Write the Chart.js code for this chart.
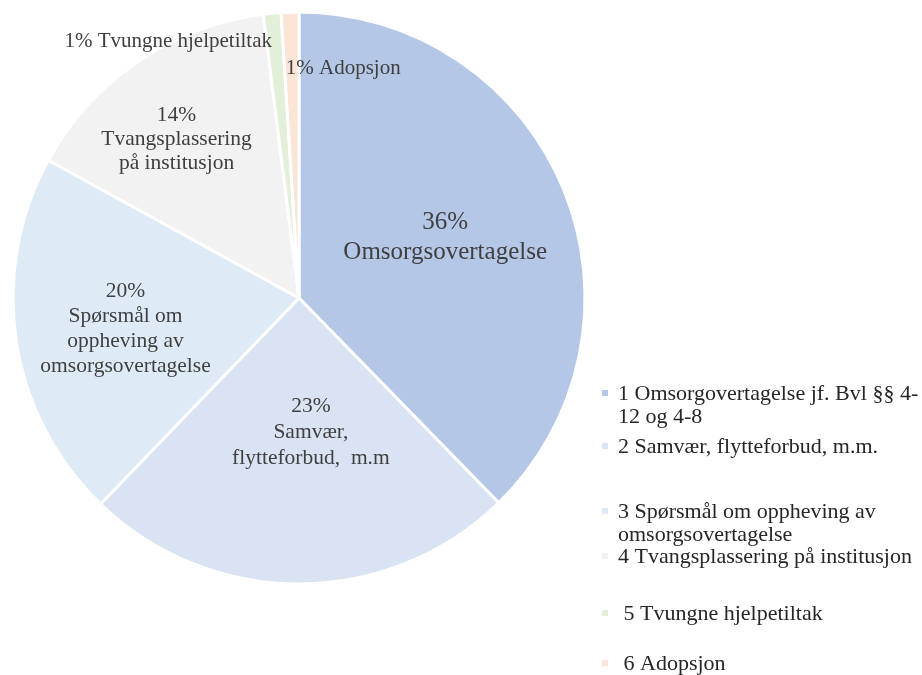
<!DOCTYPE html>
<html>
<head>
<meta charset="utf-8">
<script src="https://cdn.jsdelivr.net/npm/chart.js@4/dist/chart.umd.min.js"></script>
<style>
  html, body { margin: 0; padding: 0; background: #ffffff; }
  #wrap { position: relative; width: 922px; height: 675px; }
</style>
</head>
<body>
<div id="wrap"><canvas id="c" width="922" height="675"></canvas></div>
<script>
// ---- data ----
const categories = [
  '1 Omsorgovertagelse jf. Bvl §§ 4-\n12 og 4-8',
  '2 Samvær, flytteforbud, m.m.',
  '3 Spørsmål om oppheving av\nomsorgsovertagelse',
  '4 Tvangsplassering på institusjon',
  ' 5 Tvungne hjelpetiltak',
  ' 6 Adopsjon'
];
const values = [37.7, 24.5, 20.8, 15.0, 1.0, 1.0];
const pctLabels = ['36%', '23%', '20%', '14%', '1%', '1%'];
const sliceNames = [
  'Omsorgsovertagelse',
  'Samvær,\nflytteforbud,  m.m',
  'Spørsmål om\noppheving av\nomsorgsovertagelse',
  'Tvangsplassering\npå institusjon',
  'Tvungne hjelpetiltak',
  'Adopsjon'
];
const colors = ['#B4C7E7', '#DAE3F3', '#DEEBF7', '#F2F2F2', '#E2F0D9', '#FBE5D6'];

const FONT = "'Liberation Serif', 'Times New Roman', serif";

// ---- slice labels plugin ----
const sliceLabelPlugin = {
  id: 'sliceLabels',
  afterDatasetsDraw(chart, args, opts) {
    const ctx = chart.ctx;
    const meta = chart.getDatasetMeta(0);
    meta.data.forEach((arc, i) => {
      const p = arc.getProps(['x', 'y', 'startAngle', 'endAngle', 'outerRadius'], true);
      const mid = (p.startAngle + p.endAngle) / 2 + opts.angleShift[i] * Math.PI / 180;
      const r = p.outerRadius * opts.radial[i];
      const ax = p.x + Math.cos(mid) * r;
      const ay = p.y + Math.sin(mid) * r;
      ctx.save();
      ctx.fillStyle = '#404040';
      ctx.font = opts.fontSize[i] + 'px ' + FONT;
      ctx.textBaseline = 'middle';
      const mode = opts.mode[i];
      if (mode === 'stack') {
        const lines = [pctLabels[i]].concat(sliceNames[i].split('\n'));
        const lh = opts.lineHeight[i];
        const top = ay - (lines.length - 1) * lh / 2;
        ctx.textAlign = 'center';
        lines.forEach((ln, k) => ctx.fillText(ln, ax, top + k * lh));
      } else {
        ctx.textAlign = mode;
        ctx.fillText(pctLabels[i] + ' ' + sliceNames[i], ax, ay);
      }
      ctx.restore();
    });
  }
};

// ---- legend plugin ----
const legendPlugin = {
  id: 'sideLegend',
  afterDraw(chart, args, opts) {
    const ctx = chart.ctx;
    ctx.save();
    ctx.font = opts.fontSize + 'px ' + FONT;
    ctx.textBaseline = 'alphabetic';
    ctx.textAlign = 'left';
    categories.forEach((cat, i) => {
      const base = opts.baselines[i];
      ctx.fillStyle = colors[i];
      ctx.fillRect(opts.markerX, base - 10, 6, 6);
      ctx.fillStyle = '#262626';
      cat.split('\n').forEach((ln, k) => {
        ctx.fillText(ln, opts.textX, base + k * opts.lineHeight);
      });
    });
    ctx.restore();
  }
};

new Chart(document.getElementById('c'), {
  type: 'pie',
  data: {
    labels: categories,
    datasets: [{
      data: values,
      backgroundColor: colors,
      borderColor: '#ffffff',
      borderWidth: 3,
      hoverOffset: 0,
      radius: 286
    }]
  },
  options: {
    responsive: false,
    animation: false,
    layout: { padding: { left: 0, top: 0, right: 324, bottom: 79 } },
    plugins: {
      legend: { display: false },
      tooltip: { enabled: false },
      sliceLabels: {
        mode: ['stack', 'stack', 'stack', 'stack', 'right', 'left'],
        radial: [0.553, 0.47, 0.616, 0.70, 0.903, 0.804],
        angleShift: [-0.3, -4.9, -1.4, -3.5, -0.6, -1.5],
        fontSize: [25, 21.5, 21.5, 21.5, 21, 21],
        lineHeight: [30, 26, 25, 24, 24, 24]
      },
      sideLegend: {
        fontSize: 22,
        markerX: 602,
        textX: 618,
        lineHeight: 23,
        baselines: [400, 453, 518, 563, 620, 670]
      }
    }
  },
  plugins: [sliceLabelPlugin, legendPlugin]
});
</script>
</body>
</html>
